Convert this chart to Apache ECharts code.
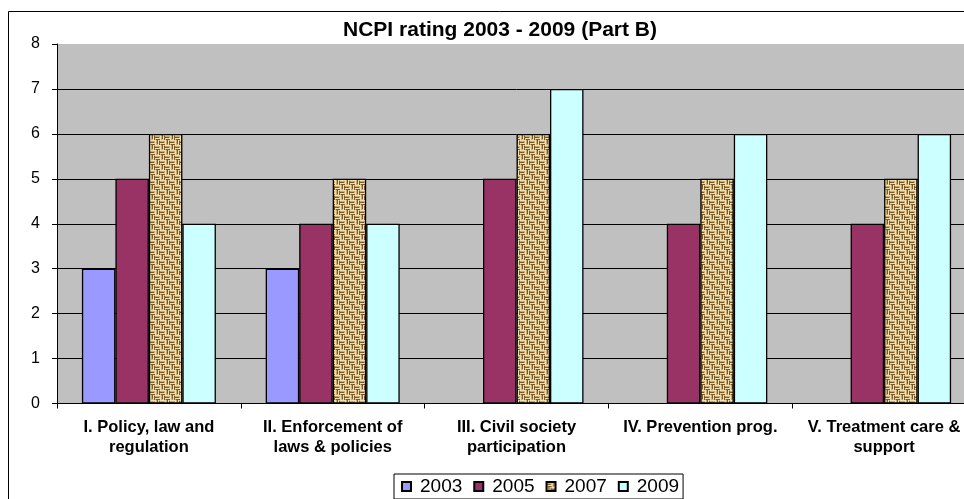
<!DOCTYPE html>
<html>
<head>
<meta charset="utf-8">
<script src="https://cdn.jsdelivr.net/npm/echarts@6/dist/echarts.min.js"></script>
<style>
html,body{margin:0;padding:0;background:#fff;overflow:hidden;width:964px;height:499px;}
#chart{width:990px;height:499px;}
</style>
</head>
<body>
<div id="chart"></div>
<script>
const categories = [
  'I. Policy, law and\nregulation',
  'II. Enforcement of\nlaws & policies',
  'III. Civil society\nparticipation',
  'IV. Prevention prog.',
  'V. Treatment care &\nsupport'
];
const seriesNames = ['2003', '2005', '2007', '2009'];
const values2003 = [3, 3, null, null, null];
const values2005 = [5, 4, 5, 4, 4];
const values2007 = [6, 5, 6, 5, 5];
const values2009 = [4, 4, 7, 6, 6];
const yTicks = [0, 1, 2, 3, 4, 5, 6, 7, 8];

function makeBurlap() {
  const c = document.createElement('canvas');
  c.width = 10; c.height = 10;
  const g = c.getContext('2d');
  g.fillStyle = '#C9AB72';
  g.fillRect(0, 0, 10, 10);
  const dark = '#7A5A28', light = '#EEE0B2';
  function hBlock(x0, y0) {
    g.fillStyle = light; g.fillRect(x0, y0, 5, 1); g.fillRect(x0, y0 + 3, 5, 1);
    g.fillStyle = dark; g.fillRect(x0, y0 + 2, 4, 1); g.fillRect(x0 + 1, y0 + 4, 4, 1);
  }
  function vBlock(x0, y0) {
    g.fillStyle = light; g.fillRect(x0, y0, 1, 5); g.fillRect(x0 + 3, y0, 1, 5);
    g.fillStyle = dark; g.fillRect(x0 + 2, y0, 1, 4); g.fillRect(x0 + 4, y0 + 1, 1, 4);
  }
  hBlock(0, 0); vBlock(5, 0); vBlock(0, 5); hBlock(5, 5);
  return c;
}

const colors = ['#9999FF', '#993366', {image: makeBurlap(), repeat: 'repeat'}, '#CCFFFF'];
const dataSets = [values2003, values2005, values2007, values2009];

const chart = echarts.init(document.getElementById('chart'));
const font = '"Liberation Sans", Arial, sans-serif';

chart.setOption({
  animation: false,
  backgroundColor: '#ffffff',
  title: {
    text: 'NCPI rating 2003 - 2009 (Part B)',
    left: 495,
    top: 15,
    textAlign: 'center',
    textStyle: {fontFamily: font, fontSize: 21, fontWeight: 'bold', color: '#000'}
  },
  graphic: [{
    type: 'rect',
    shape: {x: 8.5, y: 11.5, width: 1000, height: 600},
    style: {fill: 'none', stroke: '#000', lineWidth: 1},
    z: -10
  }],
  legend: {
    data: seriesNames,
    left: 394,
    top: 474,
    icon: 'rect',
    itemWidth: 9,
    itemHeight: 9,
    itemGap: 11,
    padding: [3, 4, 3, 7],
    borderColor: '#000',
    borderWidth: 1,
    backgroundColor: '#fff',
    textStyle: {fontFamily: font, fontSize: 19, color: '#000', padding: [0, 0, 0, 4]}
  },
  grid: {
    left: 57,
    top: 44,
    width: 919,
    height: 359.5,
    show: true,
    backgroundColor: '#C0C0C0',
    borderWidth: 0
  },
  xAxis: {
    type: 'category',
    data: categories,
    axisLine: {lineStyle: {color: '#000', width: 1}},
    axisTick: {show: true, length: 5, lineStyle: {color: '#000'}},
    axisLabel: {
      interval: 0,
      margin: 14,
      fontFamily: font,
      fontSize: 16.5,
      fontWeight: 'bold',
      color: '#000',
      lineHeight: 20
    }
  },
  yAxis: {
    type: 'value',
    min: 0,
    max: 8,
    interval: 1,
    axisLine: {show: true, lineStyle: {color: '#000', width: 1}},
    axisTick: {show: true, length: 5, lineStyle: {color: '#000'}},
    splitLine: {show: true, showMaxLine: false, lineStyle: {color: '#000', width: 1}},
    axisLabel: {
      margin: 17,
      fontFamily: font,
      fontSize: 16,
      color: '#000',
      formatter: function (v) { return yTicks.indexOf(v) >= 0 ? String(v) : ''; }
    }
  },
  series: seriesNames.map(function (name, i) {
    return {
      name: name,
      type: 'bar',
      data: dataSets[i],
      barWidth: 33.5,
      barGap: '0%',
      itemStyle: {color: colors[i], borderColor: '#000', borderWidth: 1.3}
    };
  })
});
</script>
</body>
</html>
